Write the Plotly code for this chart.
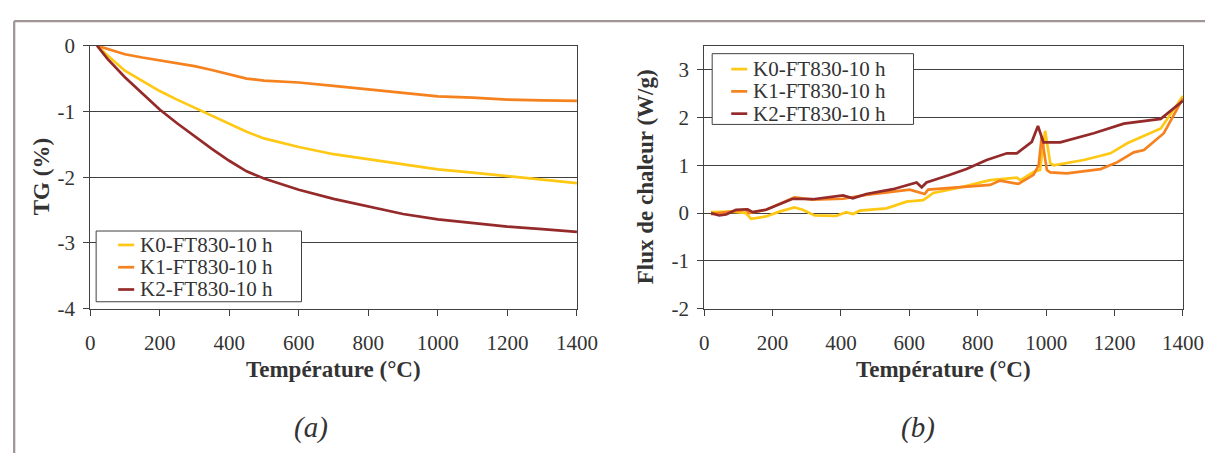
import plotly.graph_objects as go

W, H = 1218, 457

# ---------------- data ----------------
series_names = ["K0-FT830-10 h", "K1-FT830-10 h", "K2-FT830-10 h"]
series_colors = ["#FFC814", "#F5821E", "#952A2A"]

# (a) TG (%)
tg_temp = [20, 50, 100, 150, 200, 250, 300, 350, 400, 450, 500, 600, 700, 800,
           900, 1000, 1100, 1200, 1300, 1400]
tg_k0 = [0, -0.15, -0.38, -0.54, -0.69, -0.82, -0.94, -1.06, -1.19, -1.31, -1.41,
         -1.54, -1.65, -1.73, -1.81, -1.88, -1.93, -1.98, -2.03, -2.09]
tg_k1 = [0, -0.05, -0.13, -0.18, -0.22, -0.26, -0.31, -0.37, -0.44, -0.50, -0.53,
         -0.56, -0.61, -0.66, -0.72, -0.77, -0.79, -0.82, -0.83, -0.84]
tg_k2 = [0, -0.20, -0.48, -0.72, -0.97, -1.18, -1.38, -1.57, -1.75, -1.91, -2.02,
         -2.19, -2.33, -2.45, -2.56, -2.64, -2.70, -2.75, -2.79, -2.83]

# (b) heat flux (W/g)
hf_temp_k0 = [20, 83, 122, 137, 181, 220, 264, 288, 323, 386, 415, 435, 455, 533,
              592, 640, 650, 670, 738, 836, 914, 925, 963, 982, 997, 1012, 1022,
              1110, 1188, 1237, 1335, 1400]
hf_k0 = [0.02, 0.03, 0.0, -0.12, -0.07, 0.03, 0.12, 0.07, -0.05, -0.06, 0.02, -0.02,
         0.05, 0.10, 0.24, 0.27, 0.32, 0.42, 0.52, 0.69, 0.74, 0.69, 0.86, 0.90, 1.72,
         1.04, 1.00, 1.11, 1.25, 1.46, 1.77, 2.45]
hf_temp_k1 = [20, 83, 122, 132, 181, 264, 318, 406, 474, 601, 645, 655, 738, 836,
              865, 919, 963, 978, 987, 1002, 1012, 1061, 1159, 1207, 1256, 1286,
              1344, 1400]
hf_k1 = [-0.02, 0.03, 0.07, 0.0, 0.07, 0.33, 0.28, 0.30, 0.38, 0.49, 0.40, 0.49,
         0.54, 0.59, 0.68, 0.61, 0.80, 1.00, 1.60, 0.90, 0.85, 0.83, 0.92, 1.06,
         1.27, 1.32, 1.67, 2.40]
hf_temp_k2 = [20, 44, 64, 93, 127, 142, 181, 259, 318, 406, 435, 474, 552, 621,
              636, 650, 719, 767, 826, 885, 914, 958, 976, 992, 1041, 1139, 1227,
              1335, 1400]
hf_k2 = [0.0, -0.05, -0.03, 0.07, 0.08, 0.02, 0.07, 0.30, 0.29, 0.37, 0.31, 0.40,
         0.50, 0.64, 0.54, 0.64, 0.80, 0.92, 1.11, 1.25, 1.25, 1.49, 1.82, 1.48,
         1.48, 1.67, 1.87, 1.97, 2.35]

x_ticks = [0, 200, 400, 600, 800, 1000, 1200, 1400]
tg_ticks = [0, -1, -2, -3, -4]
hf_ticks = [3, 2, 1, 0, -1, -2]

x_title = "Température (°C)"
tg_title = "TG (%)"
hf_title = "Flux de chaleur (W/g)"
panel_labels = ["(a)", "(b)"]

# ---------------- layout helpers ----------------
# Target positions below are in screenshot pixels; the capture maps figure
# pixels to screenshot pixels as  X = 0.977*x + 14,  Y = 0.951*y + 19.2
SX, OX, SY, OY = 0.977, 14.0, 0.951, 19.2


def px(X):
    return ((X - OX) / SX) / W


def py(Y):
    return 1 - ((Y - OY) / SY) / H


FONT = "Liberation Serif, Times New Roman, serif"
TXT = "#333333"
AX = "#404040"

fig = go.Figure()

tg_series = [tg_k0, tg_k1, tg_k2]
for name, col, ys in zip(series_names, series_colors, tg_series):
    fig.add_trace(go.Scatter(x=tg_temp, y=ys, mode="lines", name=name,
                             line=dict(color=col, width=2.7),
                             xaxis="x", yaxis="y", showlegend=False))

hf_series = [(hf_temp_k0, hf_k0), (hf_temp_k1, hf_k1), (hf_temp_k2, hf_k2)]
for name, col, (xs, ys) in zip(series_names, series_colors, hf_series):
    fig.add_trace(go.Scatter(x=xs, y=ys, mode="lines", name=name,
                             line=dict(color=col, width=2.7),
                             xaxis="x2", yaxis="y2", showlegend=False))


def labels(vals):
    return ["%g" % v for v in vals]   # plain hyphen minus, as in the reference


tickfont = dict(family=FONT, size=21, color=TXT)
common_x = dict(range=[0, 1400], tickvals=x_ticks, ticktext=labels(x_ticks),
                ticks="outside", ticklen=6,
                tickcolor=AX, showline=True, linecolor=AX, linewidth=1, mirror=True,
                showgrid=False, zeroline=False, tickfont=tickfont,
                ticklabelstandoff=9)
common_y = dict(ticks="outside", ticklen=6, tickcolor=AX, showline=True,
                linecolor=AX, linewidth=1, mirror=True, showgrid=True,
                gridcolor=AX, gridwidth=1, zeroline=False, tickfont=tickfont,
                ticklabelstandoff=4)

y_dom = [py(309), py(45)]
fig.update_layout(
    width=W, height=H, margin=dict(l=0, r=0, t=0, b=0),
    paper_bgcolor="white", plot_bgcolor="white",
    showlegend=False,
    xaxis=dict(domain=[px(91), px(577)], anchor="y", **common_x),
    yaxis=dict(domain=y_dom, anchor="x", range=[-4, 0], tickvals=tg_ticks,
               ticktext=labels(tg_ticks), **common_y),
    xaxis2=dict(domain=[px(704), px(1182)], anchor="y2", **common_x),
    yaxis2=dict(domain=y_dom, anchor="x2", range=[-2, 3.5], tickvals=hf_ticks,
                ticktext=labels(hf_ticks), **common_y),
)

shapes = []
annotations = []

# outer frame (as close to the page corner as the figure allows)
fx0, fy0 = 1.2 / W, 1 - 1.2 / H
shapes.append(dict(type="line", xref="paper", yref="paper", x0=fx0, x1=1.0,
                   y0=fy0, y1=fy0, line=dict(color="#A09696", width=2.3)))
shapes.append(dict(type="line", xref="paper", yref="paper", x0=fx0, x1=fx0,
                   y0=fy0, y1=0, line=dict(color="#A09696", width=2.3)))

# axis titles
title_font = dict(family=FONT, size=23, color=TXT)
for cx in [(91 + 577) / 2, (704 + 1182) / 2]:
    annotations.append(dict(text="<b>%s</b>" % x_title, xref="paper", yref="paper",
                            x=px(cx), y=py(370), xanchor="center", yanchor="middle",
                            showarrow=False, font=title_font))
annotations.append(dict(text="<b>%s</b>" % tg_title, xref="paper", yref="paper",
                        x=px(42), y=py(177), xanchor="center", yanchor="middle",
                        textangle=-90, showarrow=False, font=title_font))
annotations.append(dict(text="<b>%s</b>" % hf_title, xref="paper", yref="paper",
                        x=px(645), y=py(177), xanchor="center", yanchor="middle",
                        textangle=-90, showarrow=False, font=title_font))

# panel labels
for lab, cx in zip(panel_labels, [311, 917]):
    annotations.append(dict(text="<i>%s</i>" % lab, xref="paper", yref="paper",
                            x=px(cx), y=py(428), xanchor="center", yanchor="middle",
                            showarrow=False,
                            font=dict(family=FONT, size=29, color=TXT)))

# legends (drawn in paper space)
ROW = 22.35  # screenshot px between legend rows
legend_boxes = [dict(x0=97, y0=231, x1=302, y1=302, row0=245, lx0=119, lx1=135, tx=139),
                dict(x0=712, y0=53, x1=913, y1=124, row0=68.5, lx0=731, lx1=747, tx=751)]
for lb in legend_boxes:
    shapes.append(dict(type="rect", xref="paper", yref="paper",
                       x0=px(lb["x0"]), x1=px(lb["x1"]), y0=py(lb["y1"]), y1=py(lb["y0"]),
                       fillcolor="white", line=dict(color=AX, width=1), layer="above"))
    for i, (name, col) in enumerate(zip(series_names, series_colors)):
        ry = lb["row0"] + ROW * i
        shapes.append(dict(type="line", xref="paper", yref="paper",
                           x0=px(lb["lx0"]), x1=px(lb["lx1"]), y0=py(ry), y1=py(ry),
                           line=dict(color=col, width=2.7), layer="above"))
        annotations.append(dict(text=name, xref="paper", yref="paper",
                                x=px(lb["tx"]), y=py(ry), xanchor="left",
                                yanchor="middle", showarrow=False,
                                font=dict(family=FONT, size=21, color=TXT)))

fig.update_layout(shapes=shapes, annotations=annotations)

fig.write_html("out.html")
